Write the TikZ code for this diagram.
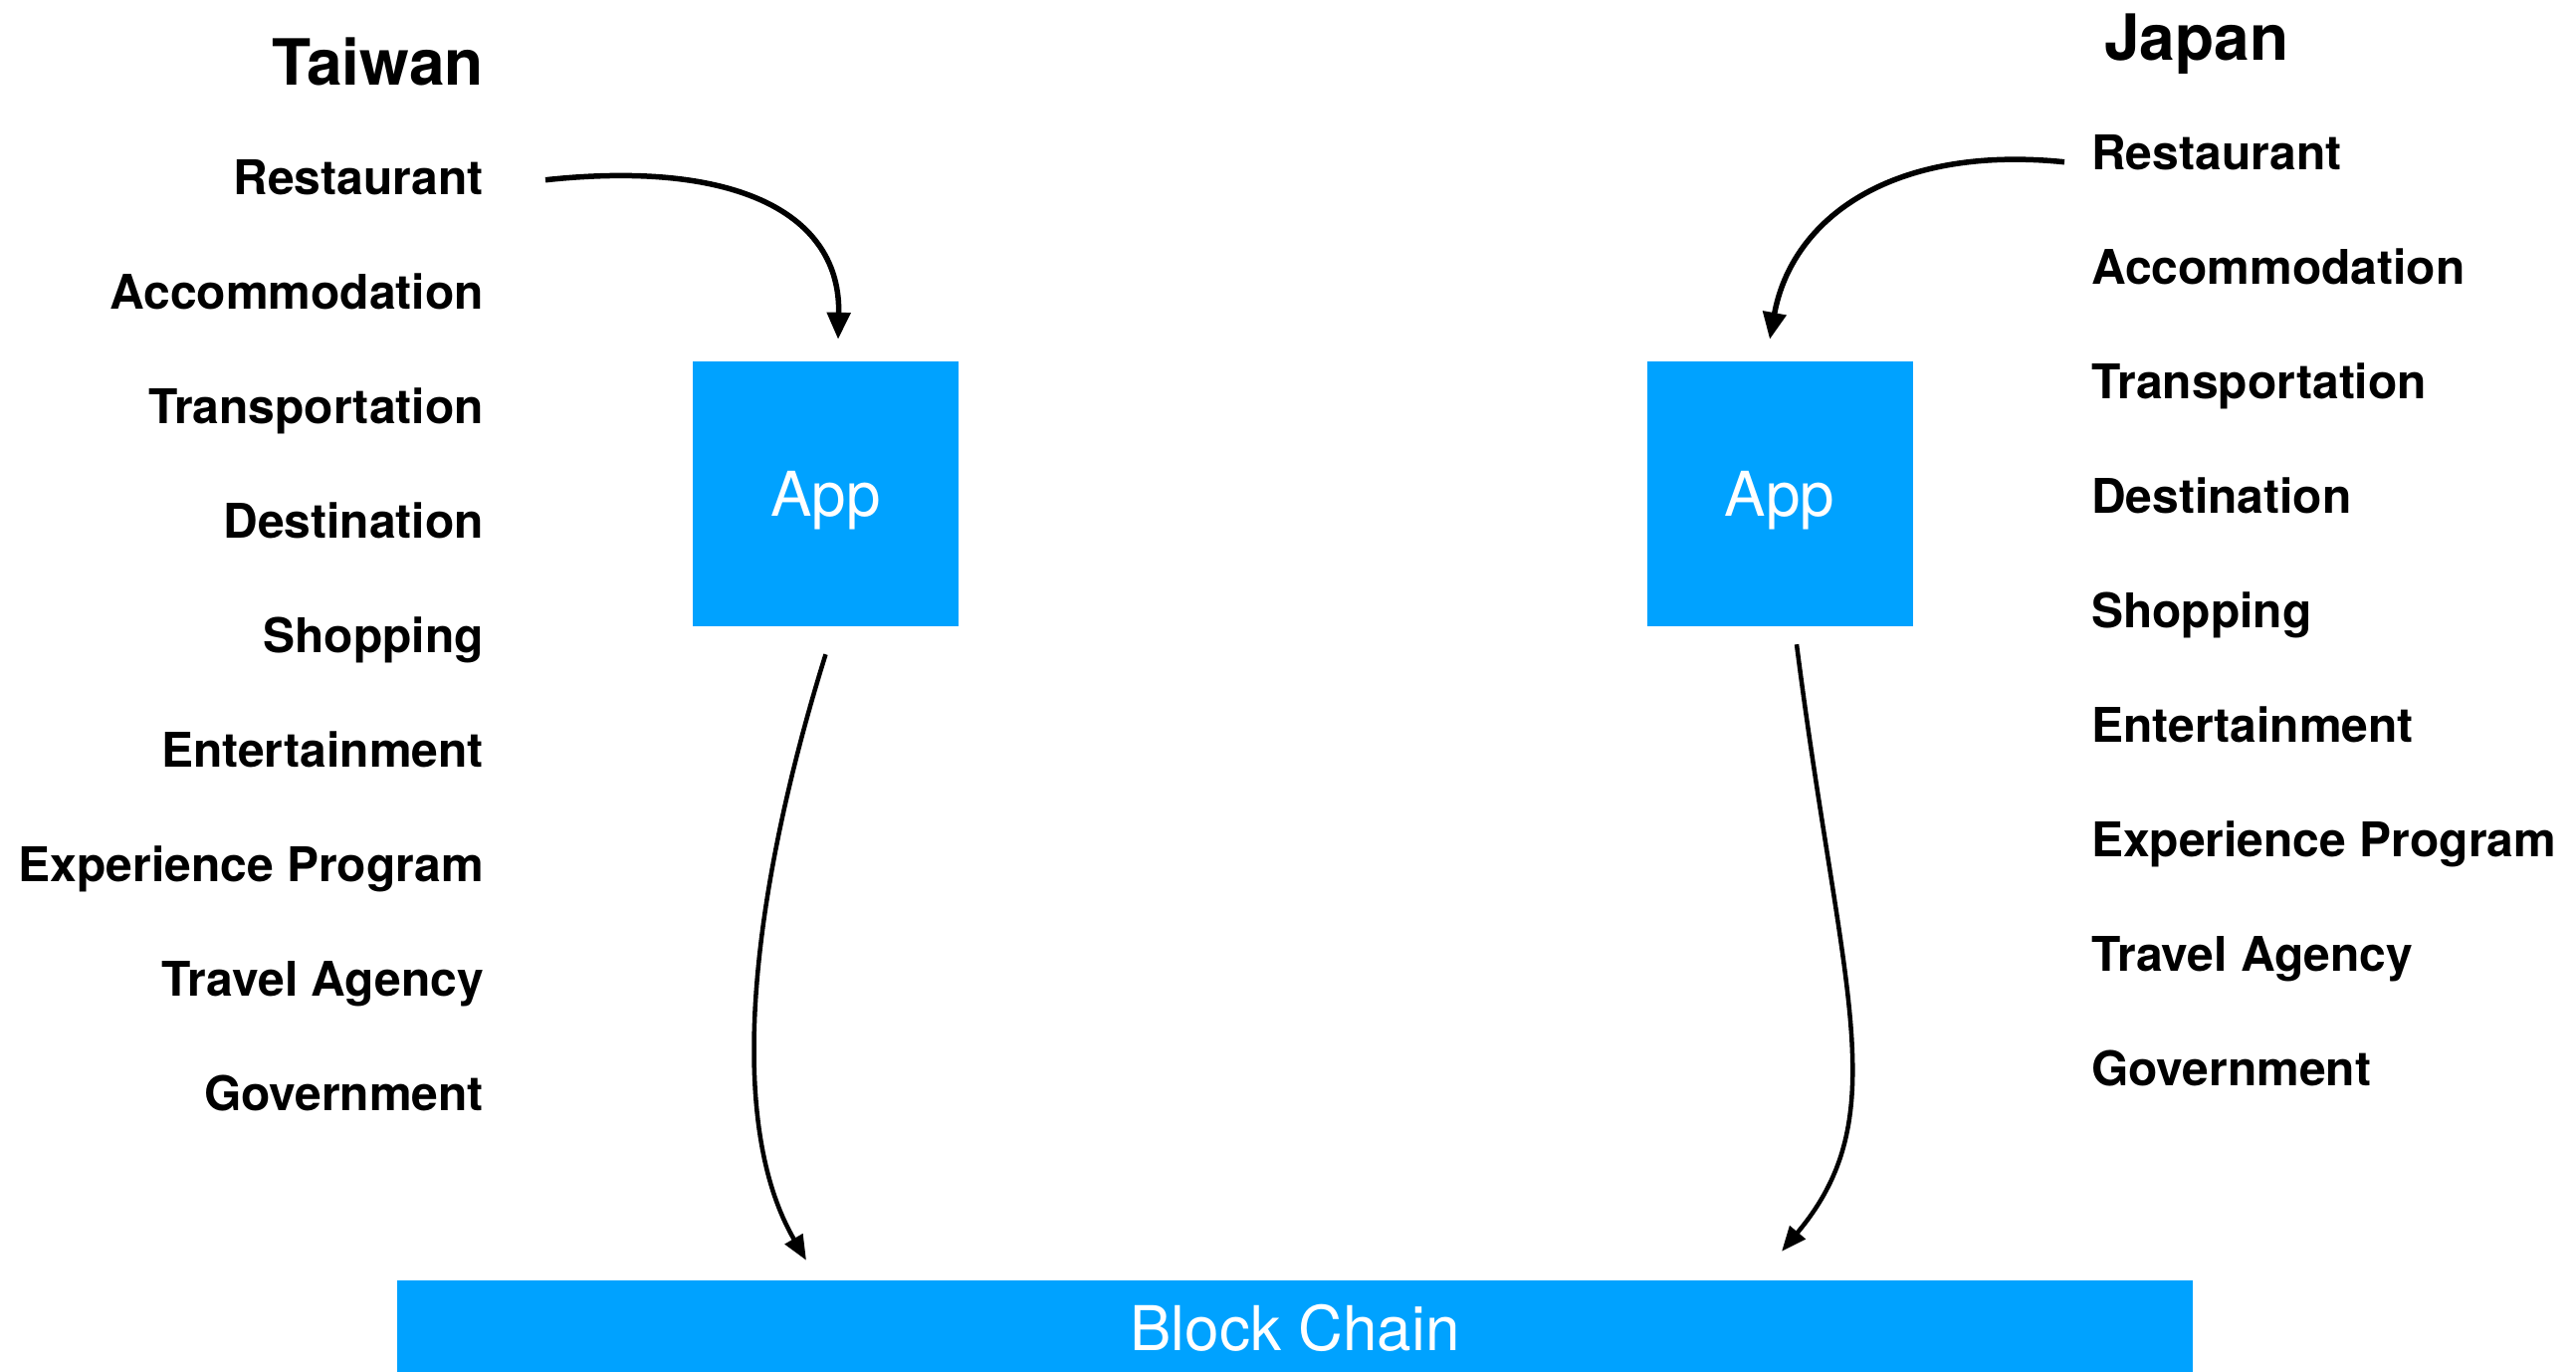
\documentclass[tikz,border=0pt]{standalone}
\usepackage{fontspec}
\setmainfont{TeX Gyre Heros}
\usetikzlibrary{arrows.meta}
\definecolor{appblue}{RGB}{0,162,255}
\begin{document}
\begin{tikzpicture}[x=1pt,y=-1pt,
 lbl/.style={inner sep=0pt, font=\fontsize{48}{58}\selectfont\bfseries},
 ttl/.style={inner sep=0pt, font=\fontsize{64}{76}\selectfont\bfseries},
 bluebox/.style={fill=appblue, draw=none, text=white, inner sep=0pt, text depth=0pt, font=\fontsize{62}{74}\selectfont},
 arrtop/.style={line width=5.5pt, -{Triangle[length=27pt,width=23pt]}},
 arrbot/.style={line width=4.5pt, -{Triangle[length=25pt,width=20pt]}}]
\useasboundingbox (0,0) rectangle (2588,1377);
% titles
\node[ttl, anchor=base east] (taiwan) at (486,85) {Taiwan};
\node[ttl, anchor=base west] (japan) at (2114,60) {Japan};
% labels
\foreach \t [count=\i] in {Restaurant,Accommodation,Transportation,Destination,Shopping,Entertainment,Experience Program,Travel Agency,Government}{
  \node[lbl, anchor=base east] (t\i) at (486,{195+115*(\i-1)}) {\t};
  \node[lbl, anchor=base west] (j\i) at (2101,{170+115*(\i-1)}) {\t};
}
% boxes
\node[bluebox, minimum width=267pt, minimum height=266pt] (appL) at (829.5,496) {App};
\node[bluebox, minimum width=267pt, minimum height=266pt] (appR) at (1788,496) {App};
\node[bluebox, minimum width=1803.5pt, minimum height=95pt] (bar) at (1301,1333.5) {Block Chain};
% connectors
\draw[arrtop] ([xshift=62pt,yshift=-3pt]t1.east) .. controls (740,160) and (845,215) .. ([xshift=12.5pt,yshift=22pt]appL.north);
\draw[arrtop] ([xshift=-27pt,yshift=-10pt]j1.west) .. controls (1900,145) and (1800,220) .. ([xshift=-10pt,yshift=22pt]appR.north);
\draw[arrbot] ([yshift=-28pt]appL.south) .. controls (760,880) and (725,1120) .. ([xshift=-491pt,yshift=20pt]bar.north);
\draw[arrbot] ([xshift=17pt,yshift=-18pt]appR.south) .. controls (1850,1000) and (1905,1120) .. ([xshift=489pt,yshift=29pt]bar.north);
\end{tikzpicture}
\end{document}
